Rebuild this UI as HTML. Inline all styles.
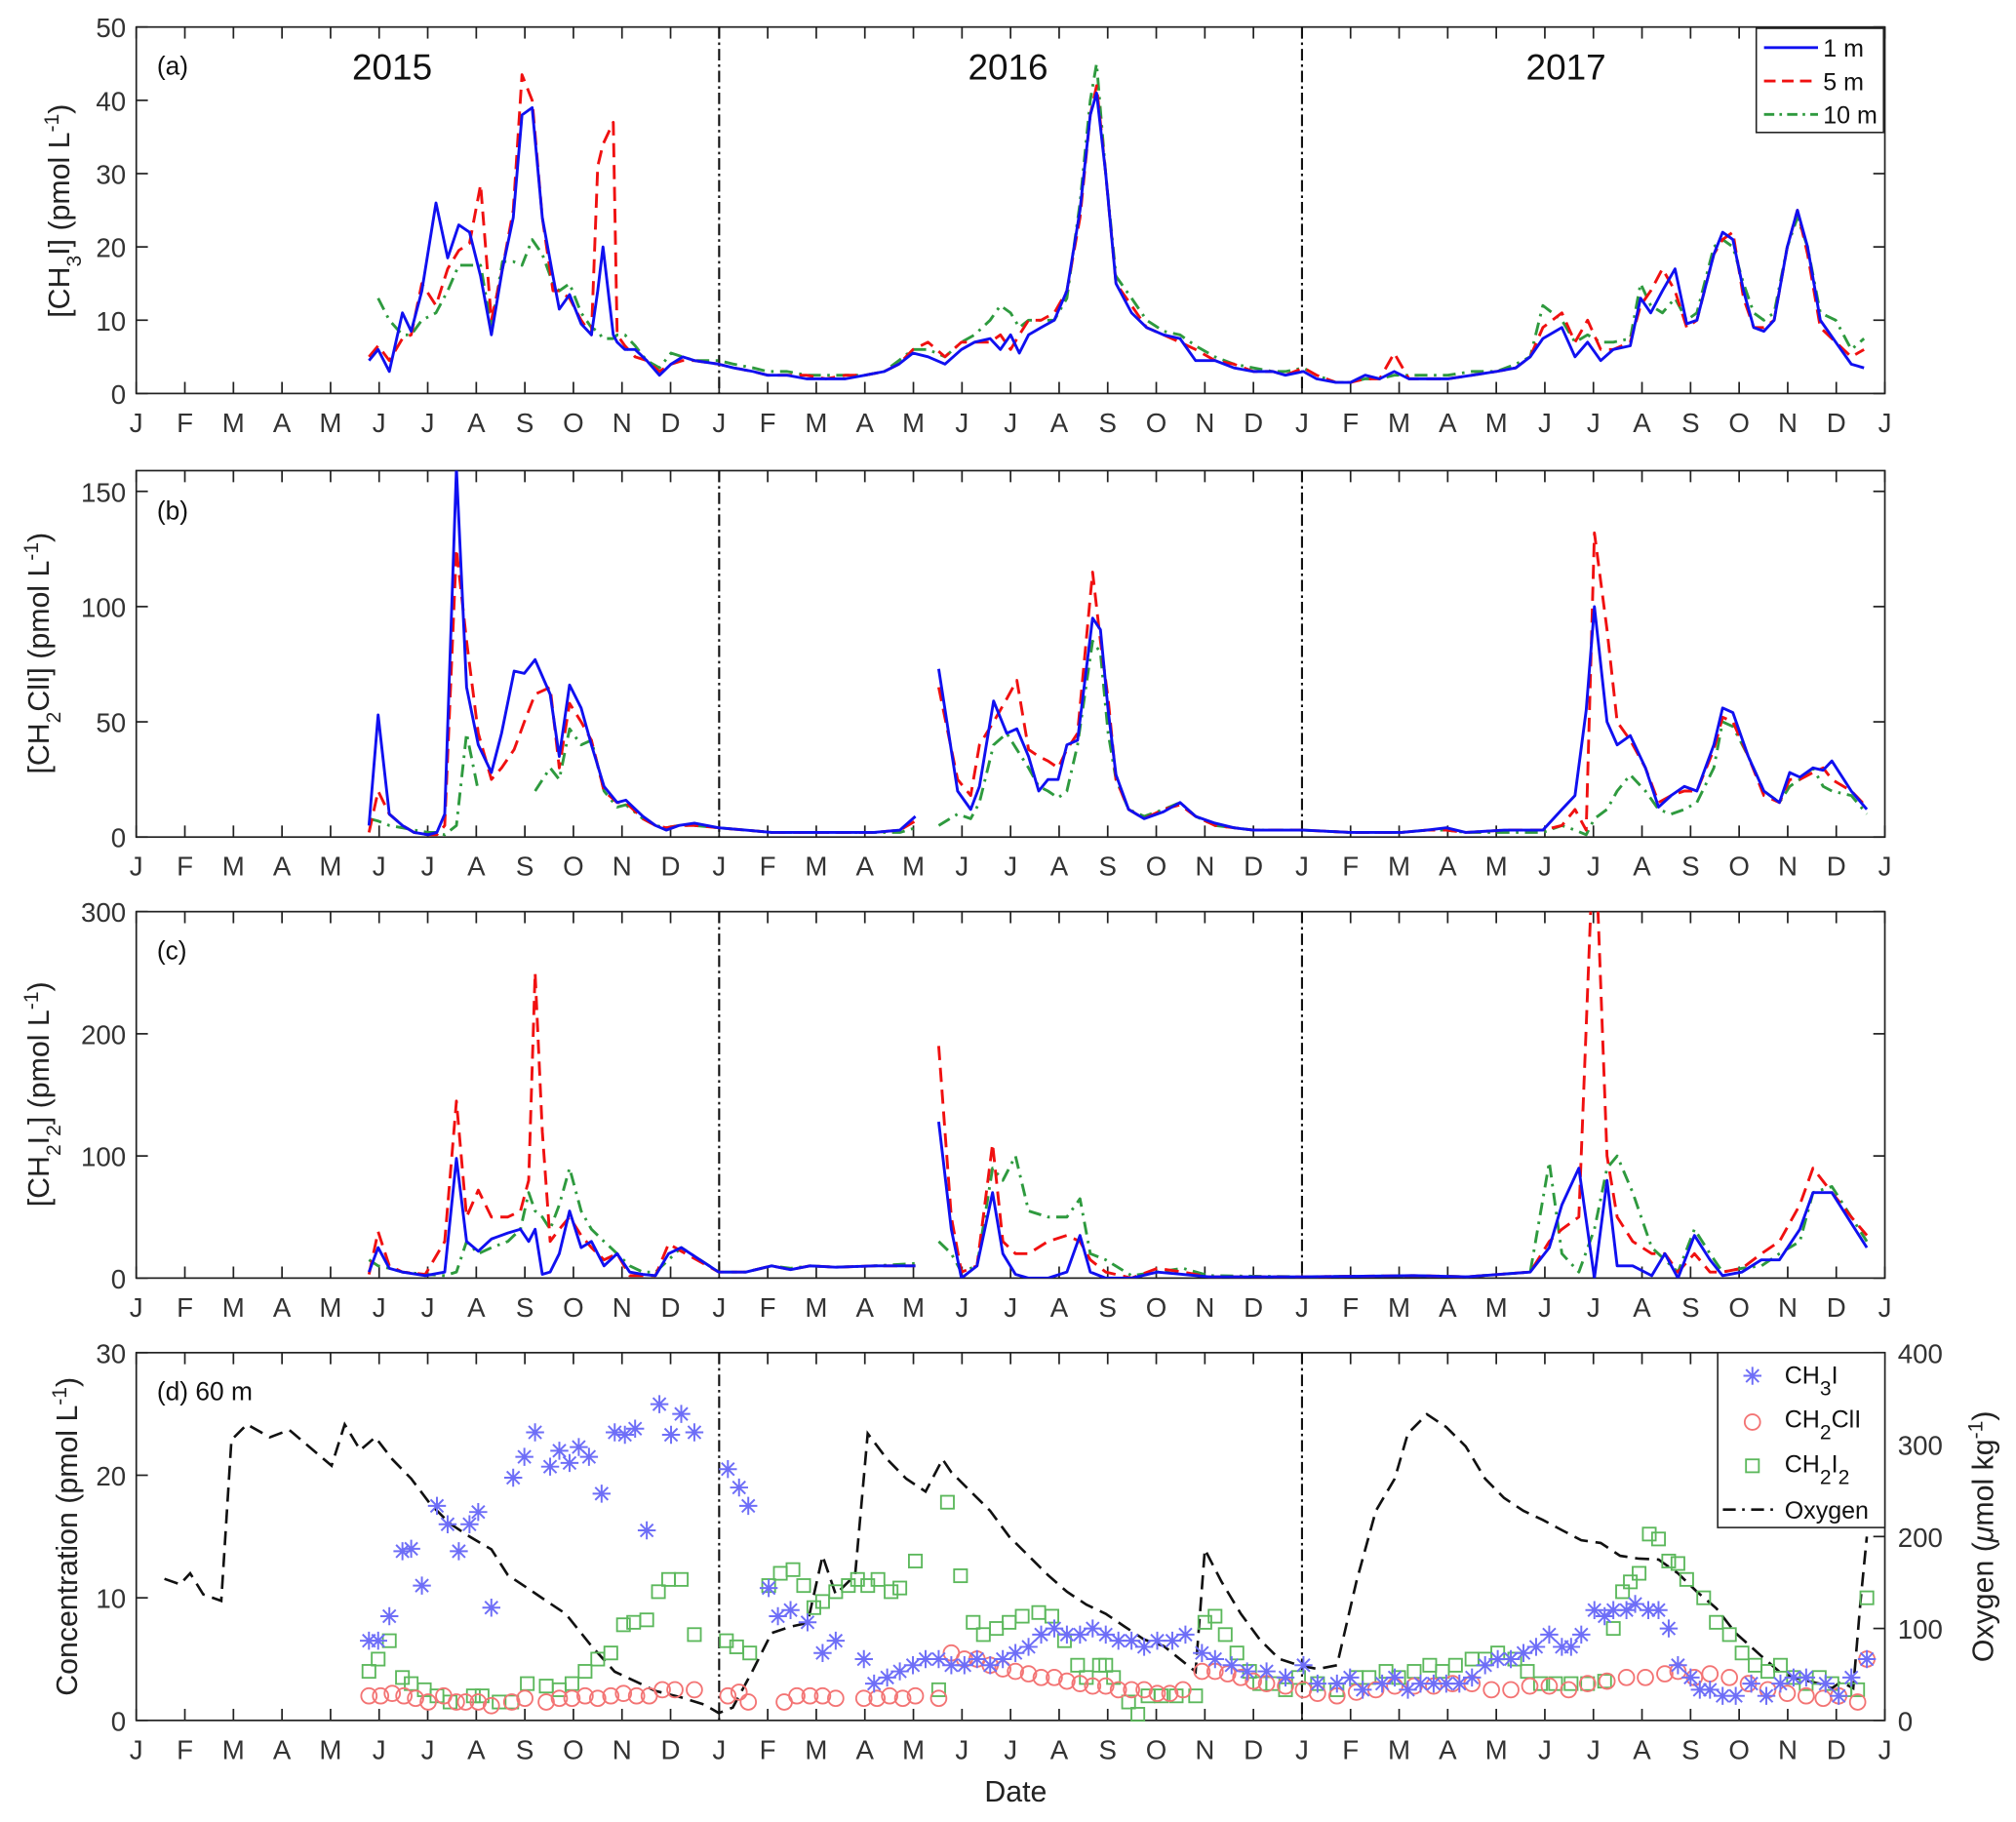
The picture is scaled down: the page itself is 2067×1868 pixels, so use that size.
<!DOCTYPE html>
<html><head><meta charset="utf-8">
<style>
html,body{margin:0;padding:0;background:#fff;}
svg{display:block;font-family:"Liberation Sans",Arial,sans-serif;}
</style></head>
<body>
<svg id="chart" width="2067" height="1868" viewBox="0 0 1568 1417" xmlns="http://www.w3.org/2000/svg">
<defs>
<clipPath id="clipA"><rect x="106" y="21" width="1360" height="285"/></clipPath>
<clipPath id="clipB"><rect x="106" y="366" width="1360" height="285"/></clipPath>
<clipPath id="clipC"><rect x="106" y="709" width="1360" height="285"/></clipPath>
<clipPath id="clipD"><rect x="106" y="1052" width="1360" height="286"/></clipPath>
</defs>
</svg>
<script>
// ---------- Panel (a) CH3I ----------
const a_t=[4.79,4.98,5.21,5.48,5.66,5.88,6.17,6.41,6.64,6.86,7.09,7.31,7.54,7.76,7.94,8.15,8.36,8.58,8.71,8.92,9.16,9.37,9.5,9.61,9.82,9.9,10.06,10.27,10.51,10.77,11.01,11.25,11.49,11.99,
12.3,12.7,13.0,13.4,13.8,14.2,14.6,15.0,15.4,15.7,15.99,16.3,16.65,16.99,17.26,17.58,17.79,18.0,18.18,18.37,18.63,18.9,19.16,19.43,19.64,19.77,19.96,20.17,20.49,20.8,21.15,21.49,21.81,22.21,22.6,23.0,23.4,23.66,24.03,
24.3,24.7,25.0,25.3,25.6,25.9,26.2,26.6,27.0,27.5,28.0,28.4,28.7,28.96,29.35,29.62,29.88,30.15,30.41,30.76,30.97,31.18,31.42,31.68,31.92,32.13,32.48,32.66,32.87,33.09,33.3,33.51,33.72,33.99,34.2,34.41,34.67,34.99,35.31,35.57];
const a_1m=[4.5,6,3,11,8.5,14,26,18.5,23,22,16,8,17,24,38,39,24,16,11.5,13.5,9.5,8,14,20,8,7,6,6,4.5,2.5,4,5,4.5,4,
3.5,3,2.5,2.5,2,2,2,2.5,3,4,5.5,5,4,6,7,7.5,6,8,5.5,8,9,10,14,25,38,41,30,15,11,9,8,7.5,4.5,4.5,3.5,3,3,2.5,3,
2,1.5,1.5,2.5,2,3,2,2,2,2.5,3,3.5,5,7.5,9,5,7,4.5,6,6.5,13,11,14,17,9.5,10,19,22,21,14,9,8.5,10,20,25,20,10,7,4,3.5];
const a_5m=[5,6.5,4.5,7.5,8,15,12,17,19.5,20.5,28.5,10,17,25,43.5,40,24,14,14,13,10,8,31,34,37,8,6.5,5,4.5,3,4,4.5,4.5,4,
3.5,3,2.5,2.5,2.5,2,2.5,2.5,3,4,6,7,5,7,7,7,8,6,8,10,10,11,14,24,38,42,30,15,12,9,8,7,6,4.5,4,3,3,2.5,3.5,
2.5,1.5,1.5,2,2,5.5,2,2,2,2.5,3,3.5,5,9,11,7,10,6,6,7,12,14,17,14,9,10,19,21,22,13,9,9,10,20,25,19,9,7,5,6];
const a_10m=[null,13,10,8,8,10,11,14,17.5,17.5,17.5,9,18,18,17.5,21,19,15,14,15,11,9,8.5,7.5,7.5,8,8,6.5,4.5,3.5,5.5,5,4.5,4.5,
4,3.5,3,3,2.5,2.5,2.5,2.5,3,4.5,6,6,5,7,8,10,12,11,9,10,10,10,13,26,40,45,30,16,13,10,8.5,8,6.5,5,4,3.5,3,3,3.5,
2.5,1.5,1.5,2,2,2.5,2.5,2.5,2.5,3,3,4,5,12,10,7,8,7,7,7.5,15,12,11,13,10,11,20,21,20,15,11,10,11,20,24,20,11,10,6,7.5];

// ---------- Panel (b) CH2ClI ----------
const b_t=[4.79,4.98,5.21,5.48,5.72,6.01,6.19,6.35,6.59,6.8,7.04,7.31,7.52,7.78,7.99,8.21,8.52,8.71,8.92,9.16,9.37,9.63,9.9,10.08,10.43,10.69,10.91,11.17,11.49,11.99,12.55,13.08,14.13,15.19,15.72,16.04,16.3,
16.52,16.91,17.18,17.36,17.65,17.92,18.13,18.37,18.58,18.77,18.98,19.16,19.38,19.69,19.85,20.01,20.17,20.43,20.75,21.15,21.49,21.81,22.21,22.6,23.0,24.03,24.99,26.05,26.57,26.97,27.37,28.16,28.96,29.35,29.62,29.85,30.02,30.28,30.49,30.76,31.07,31.34,31.6,31.87,32.13,32.48,32.66,32.87,33.19,33.51,33.83,34.04,34.25,34.52,34.73,34.91,35.31,35.63];
const b_1m=[5,53,10,5,2,1,2,10,160,65,40,28,45,72,71,77,62,35,66,56,40,22,15,16,9,5,3,5,6,4,3,2,2,2,3,9,null,
73,20,12,22,59,45,47,35,20,25,25,40,42,95,90,55,27,12,8,11,15,9,6,4,3,3,2,2,3,4,2,3,3,12,18,55,100,50,40,44,30,13,18,22,20,40,56,54,35,20,15,28,26,30,29,33,20,12];
const b_5m=[2,20,10,5,2,1,1,5,125,85,45,25,30,38,50,62,65,30,58,50,42,20,15,15,8,5,4,5,5,4,3,2,2,2,3,7,null,
65,25,18,40,50,60,68,38,35,33,30,38,45,115,85,60,25,12,8,12,14,9,5,4,3,3,2,2,3,3,2,3,3,5,12,3,132,90,50,42,30,15,18,20,20,38,52,50,35,18,15,25,25,28,30,25,20,13];
const b_10m=[8,7,5,4,3,2,2,1,5,45,20,null,null,null,null,20,30,25,47,40,42,20,13,14,8,5,4,5,5,4,3,2,2,2,2,4,null,
5,10,8,15,40,45,38,30,22,20,17,20,40,85,80,45,25,12,9,12,15,9,5,4,3,3,2,2,3,3,2,2,2,5,3,1,8,12,20,27,20,12,10,12,15,30,50,48,35,20,15,22,25,30,22,20,18,10];

// ---------- Panel (c) CH2I2 ----------
const c_t=[4.79,4.98,5.21,5.48,5.95,6.35,6.59,6.8,7.04,7.31,7.65,7.91,8.08,8.21,8.36,8.52,8.71,8.92,9.16,9.37,9.63,9.9,10.16,10.43,10.69,10.96,11.22,11.99,12.55,13.08,13.47,13.87,14.4,15.19,16.04,16.3,
16.52,16.78,16.99,17.31,17.63,17.84,18.1,18.37,18.77,19.16,19.43,19.64,19.96,20.49,21.02,21.55,22.08,24.03,26.3,27.4,28.7,29.09,29.35,29.7,30.02,30.28,30.49,30.81,31.2,31.47,31.74,32.08,32.4,32.66,33.06,33.46,33.83,34.25,34.52,34.91,35.31,35.63];
const c_1m=[5,25,8,5,2,5,98,30,22,32,37,40,30,40,3,5,20,55,25,30,10,20,5,3,2,20,25,5,5,10,7,10,9,10,10,null,
128,40,0,10,70,20,3,0,0,5,35,5,0,0,5,3,1,1,2,1,5,25,60,90,0,80,10,10,2,20,0,35,15,2,5,15,15,40,70,70,45,25];
const c_5m=[3,38,10,5,3,30,145,50,72,50,50,55,80,250,120,30,40,50,35,25,15,20,2,2,2,28,22,5,5,10,7,10,9,10,10,null,
190,50,5,10,110,30,20,20,30,35,30,15,5,0,8,5,1,1,2,1,5,30,40,50,380,100,50,30,20,20,5,20,5,5,8,20,30,60,90,70,50,35];
const c_10m=[15,10,8,5,3,2,5,30,20,25,30,40,70,55,50,40,60,90,55,40,30,20,10,5,5,15,25,5,5,10,8,10,9,10,12,null,
30,20,5,10,90,80,100,55,50,50,65,20,15,2,5,8,2,1,2,1,5,95,20,5,40,90,100,70,25,15,5,40,20,5,8,10,20,30,70,75,50,30];

// ---------- Panel (d) 60 m ----------
const d_ch3i_t=[4.79,4.98,5.21,5.48,5.66,5.88,6.19,6.41,6.64,6.86,7.04,7.31,7.76,7.99,8.21,8.52,8.71,8.92,9.11,9.32,9.58,9.85,10.06,10.27,10.51,10.77,11.01,11.22,11.49,
12.18,12.41,12.6,13.02,13.21,13.47,13.82,14.13,14.4,14.98,15.19,15.46,15.72,15.99,16.25,16.52,16.78,17.05,17.31,17.58,17.84,18.1,18.37,18.63,18.9,19.16,19.43,19.69,19.96,20.22,20.49,20.75,21.02,21.33,21.6,21.94,22.21,22.55,22.87,23.27,23.66,24.03,
24.32,24.72,24.99,25.25,25.65,25.91,26.18,26.44,26.71,26.97,27.24,27.5,27.77,28.03,28.3,28.56,28.82,29.09,29.35,29.54,29.75,30.02,30.23,30.41,30.68,30.86,31.13,31.34,31.55,31.74,32.0,32.19,32.4,32.66,32.93,33.25,33.56,33.85,34.12,34.38,34.78,35.05,35.31,35.63];
const d_ch3i=[6.5,6.5,8.5,13.8,14,11,17.5,16,13.8,16,17,9.2,19.8,21.5,23.5,20.7,22,21,22.3,21.5,18.5,23.5,23.3,23.8,15.5,25.8,23.3,25,23.5,
20.5,19,17.5,10.8,8.5,9,8,5.5,6.5,5,3,3.5,4,4.5,5,5,4.5,4.5,5,4.5,5,5.5,6,7,7.5,7,7,7.5,7,6.5,6.5,6,6.5,6.5,7,5.5,5,4.5,4,4,3.5,4.5,
3,3,3.5,2.5,3,3.5,2.5,3,3,3,3,3.5,4.5,5,5,5.5,6,7,6,6,7,9,8.5,9,9,9.5,9,9,7.5,4.5,3.5,2.5,2.5,2,2,3,2,3,3.5,3.5,3,2,3.5,5];
const d_ch2cli_t=[4.79,5.03,5.27,5.51,5.75,6.01,6.33,6.59,6.78,7.04,7.31,7.73,8.0,8.44,8.71,8.97,9.24,9.5,9.77,10.03,10.3,10.56,10.83,11.09,11.49,
12.18,12.41,12.6,13.34,13.6,13.87,14.13,14.4,14.98,15.25,15.51,15.78,16.04,16.52,16.78,17.05,17.31,17.58,17.84,18.1,18.37,18.63,18.9,19.16,19.43,19.69,19.96,20.22,20.49,20.75,21.02,21.28,21.55,21.94,22.21,22.47,22.74,23.0,23.27,23.66,24.03,
24.32,24.72,25.12,25.52,25.91,26.31,26.71,27.1,27.5,27.9,28.3,28.69,29.09,29.49,29.88,30.28,30.68,31.07,31.47,31.74,32.08,32.4,32.8,33.19,33.59,33.99,34.38,34.73,35.05,35.44,35.63];
const d_ch2cli=[2,2,2.2,2,1.8,1.5,2,1.5,1.5,1.5,1.2,1.5,1.8,1.5,1.8,1.8,2,1.8,2,2.2,2,2,2.5,2.5,2.5,
2,2.3,1.5,1.5,2,2,2,1.8,1.8,1.8,2,1.8,2,1.8,5.5,5,5,4.5,4.2,4,3.8,3.5,3.5,3.2,3,2.8,2.8,2.5,2.5,2.5,2.2,2.2,2.5,4,4,3.8,3.5,3.2,3,2.8,2.5,
2.2,2,2.3,2.5,2.8,2.8,2.8,3,3,2.5,2.5,2.8,2.8,2.5,3,3.2,3.5,3.5,3.8,4,3.5,3.8,3.5,3,2.5,2.2,2,1.8,2,1.5,5];
const d_ch2i2_t=[4.79,4.98,5.21,5.48,5.66,5.93,6.19,6.46,6.94,7.12,7.47,7.73,8.05,8.44,8.71,8.97,9.24,9.5,9.77,10.03,10.24,10.51,10.75,10.96,11.22,11.49,
12.15,12.36,12.63,13.02,13.26,13.52,13.74,13.95,14.13,14.4,14.66,14.85,15.06,15.27,15.54,15.72,16.04,16.52,16.7,16.97,17.23,17.44,17.71,17.97,18.24,18.58,18.85,19.11,19.38,19.56,19.83,19.96,20.12,20.43,20.62,20.83,21.1,21.41,21.81,22.0,22.21,22.42,22.66,22.92,23.13,23.4,23.66,23.93,
24.32,24.72,25.12,25.38,25.73,25.99,26.31,26.63,26.89,27.16,27.5,27.77,28.03,28.38,28.64,28.91,29.22,29.54,29.88,30.23,30.41,30.6,30.76,30.94,31.15,31.34,31.55,31.74,31.92,32.27,32.53,32.8,33.06,33.33,33.59,33.85,34.12,34.38,34.65,34.91,35.18,35.44,35.63];
const d_ch2i2=[4,5,6.5,3.5,3,2.5,2,1.5,2,2,1.5,1.5,3,2.8,2.5,3,4,5,5.5,7.8,8,8.2,10.5,11.5,11.5,7,
6.5,6,5.5,11,12,12.3,11,9.2,9.7,10.5,11,11.5,11,11.5,10.5,10.8,13,2.5,17.8,11.8,8,7,7.5,8,8.5,8.8,8.5,6.5,4.5,3.5,4.5,4.5,3.5,1.5,0.5,2,2,2,2,8,8.5,7,5.5,4,3,3,2.5,3.5,
3,2.5,3.5,3.5,4,3.5,4,4.5,4,4.5,5,5,5.5,5,4,3,3,3,3,3.2,7.5,10.5,11.3,12,15.2,14.8,13,12.8,11.5,10,8,7,5.5,4.5,4,4.5,3.5,3,3.5,3,2.5,2.5,10];
const d_oxy_t=[0.58,0.9,1.11,1.38,1.75,1.96,2.28,2.75,3.15,3.55,4.02,4.29,4.61,4.92,5.27,5.66,6.06,6.46,6.86,7.31,7.65,8.05,8.44,8.84,9.37,9.85,10.3,10.69,11.22,11.7,11.99,
12.28,12.68,13.08,13.47,13.82,14.13,14.4,14.8,15.06,15.46,15.85,16.25,16.6,16.78,17.18,17.58,17.97,18.37,18.77,19.16,19.56,19.96,20.35,20.75,21.15,21.55,21.81,22.0,22.34,22.74,23.13,23.53,23.93,24.32,24.72,
25.12,25.52,25.91,26.18,26.57,26.97,27.37,27.77,28.16,28.56,28.96,29.35,29.75,30.15,30.55,30.94,31.34,31.74,32.13,32.53,32.93,33.46,33.85,34.25,34.65,34.91,35.1,35.35,35.5,35.63];
const d_oxy=[154,148,160,137,130,305,322,308,316,298,277,322,294,308,284,263,235,214,200,186,158,144,130,116,81,53,42,32,25,17,8,
14,53,95,102,106,179,137,158,312,284,263,249,284,270,249,228,200,179,158,140,126,116,102,88,81,64,53,186,151,116,88,67,60,56,60,
151,228,263,312,333,319,298,263,242,228,218,207,196,193,179,176,175,160,140,122,95,70,52,45,40,35,42,35,130,200];

const monthLetters=["J","F","M","A","M","J","J","A","S","O","N","D"];
const yearLabels=["2015","2016","2017"];

const svg=document.getElementById('chart');
const NS="http://www.w3.org/2000/svg";
const L=106,R=1466;
const xs=m=>L+m*(R-L)/36;
function el(tag,attrs,parent){const e=document.createElementNS(NS,tag);for(const k in attrs)e.setAttribute(k,attrs[k]);(parent||svg).appendChild(e);return e;}

const panels=[
 {id:'a',top:21,bot:306,ymax:50,ticks:[0,10,20,30,40,50],clip:'clipA'},
 {id:'b',top:366,bot:651,ymax:159,ticks:[0,50,100,150],clip:'clipB'},
 {id:'c',top:709,bot:994,ymax:300,ticks:[0,100,200,300],clip:'clipC'},
 {id:'d',top:1052,bot:1338,ymax:30,ticks:[0,10,20,30],clip:'clipD'}
];
function ysFor(p){return v=>p.bot-v*(p.bot-p.top)/p.ymax;}

function drawAxes(p,rightTicks){
  const g=el('g',{});
  
  
  el('rect',{x:L,y:p.top,width:R-L,height:p.bot-p.top,fill:'none',stroke:'#222','stroke-width':1.3},g);
  for(let m=0;m<=36;m++){
    const x=xs(m);
    el('line',{x1:x,x2:x,y1:p.bot,y2:p.bot-9,stroke:'#222','stroke-width':1.3},g);
    el('line',{x1:x,x2:x,y1:p.top,y2:p.top+9,stroke:'#222','stroke-width':1.3},g);
    const t=el('text',{x:x,y:p.bot+30,'font-size':21,'text-anchor':'middle',fill:'#333'},g);
    t.textContent=monthLetters[m%12];
    
    
  }
  const ys=ysFor(p);
  p.ticks.forEach(v=>{
    const y=ys(v);
    el('line',{x1:L,x2:L+9,y1:y,y2:y,stroke:'#222','stroke-width':1.3},g);
    if(!rightTicks) el('line',{x1:R,x2:R-9,y1:y,y2:y,stroke:'#222','stroke-width':1.3},g);
    const t=el('text',{x:L-8,y:y+8,'font-size':21,'text-anchor':'end',fill:'#333'},g);
    t.textContent=v;
    
    
  });
  [12,24].forEach(m=>{
    const l=el('line',{x1:xs(m),x2:xs(m),y1:p.top,y2:p.bot,stroke:'#111','stroke-width':1.6,'stroke-dasharray':'9,3,2,3'},g);
    
    
  });
}

function linePath(p,t,v,color,dash,name){
  const ys=ysFor(p);let d='',pen=false;
  for(let i=0;i<Math.min(t.length,v.length);i++){
    if(v[i]===null||v[i]===undefined){pen=false;continue;}
    d+=(pen?'L':'M')+xs(t[i]).toFixed(1)+','+ys(v[i]).toFixed(1);pen=true;
  }
  const path=el('path',{d:d,fill:'none',stroke:color,'stroke-width':2.2,'stroke-dasharray':dash||'none','stroke-linejoin':'round','clip-path':'url(#'+p.clip+')'});
  
  
}

const BLUE='#1010f0',RED='#f01010',GREEN='#2e9a3e';
const DASH='11,6',DASHDOT='10,5,2,5';

// panels a-c
drawAxes(panels[0]);drawAxes(panels[1]);drawAxes(panels[2]);drawAxes(panels[3],true);
linePath(panels[0],a_t,a_10m,GREEN,DASHDOT,'ch3i-10m-line');
linePath(panels[0],a_t,a_5m,RED,DASH,'ch3i-5m-line');
linePath(panels[0],a_t,a_1m,BLUE,null,'ch3i-1m-line');
linePath(panels[1],b_t,b_10m,GREEN,DASHDOT,'ch2cli-10m-line');
linePath(panels[1],b_t,b_5m,RED,DASH,'ch2cli-5m-line');
linePath(panels[1],b_t,b_1m,BLUE,null,'ch2cli-1m-line');
linePath(panels[2],c_t,c_10m,GREEN,DASHDOT,'ch2i2-10m-line');
linePath(panels[2],c_t,c_5m,RED,DASH,'ch2i2-5m-line');
linePath(panels[2],c_t,c_1m,BLUE,null,'ch2i2-1m-line');

// panel d
const pd=panels[3];
const oxyP={bot:pd.bot,top:pd.top,ymax:400};
const yo=ysFor(oxyP);
[0,100,200,300,400].forEach(v=>{
  el('line',{x1:R,x2:R-9,y1:yo(v),y2:yo(v),stroke:'#222','stroke-width':1.3});
  const t=el('text',{x:R+10,y:yo(v)+8,'font-size':21,'text-anchor':'start',fill:'#333'});
  t.textContent=v;
  
  
});
(function(){
  let d='';
  for(let i=0;i<d_oxy_t.length;i++) d+=(i?'L':'M')+xs(d_oxy_t[i]).toFixed(1)+','+yo(d_oxy[i]).toFixed(1);
  const p=el('path',{d:d,fill:'none',stroke:'#111','stroke-width':2,'stroke-dasharray':'11,6','clip-path':'url(#clipD)'});
  
  
})();
const ysd=ysFor(pd);
const gSq=el('g',{fill:'none',stroke:'#5cb85c','stroke-width':1.4});

d_ch2i2_t.forEach((t,i)=>{const m=el('rect',{x:xs(t)-5,y:ysd(d_ch2i2[i])-5,width:10,height:10},gSq);
  });
const gCi=el('g',{fill:'none',stroke:'#f37474','stroke-width':1.4});

d_ch2cli_t.forEach((t,i)=>{const m=el('circle',{cx:xs(t),cy:ysd(d_ch2cli[i]),r:6},gCi);
  });
const gSt=el('g',{stroke:'#6e6ef7','stroke-width':1.5});

function star(cx,cy,s,parent){let d='';for(let k=0;k<4;k++){const a=k*Math.PI/4;const dx=Math.cos(a)*s,dy=Math.sin(a)*s;d+='M'+(cx-dx)+','+(cy-dy)+'L'+(cx+dx)+','+(cy+dy);}return el('path',{d:d},parent);}
d_ch3i_t.forEach((t,i)=>{const m=star(xs(t),ysd(d_ch3i[i]),7,gSt);
  });

// titles / labels
function txt(x,y,s,size,name,anchor,extra){const t=el('text',Object.assign({x:x,y:y,'font-size':size,'text-anchor':anchor||'start',fill:'#111'},extra||{}));t.innerHTML=s;return t;}
txt(122,58,'(a)',20,'panel-a-label');
txt(122,404,'(b)',20,'panel-b-label');
txt(122,746,'(c)',20,'panel-c-label');
txt(122,1089,'(d) 60 m',20,'panel-d-label');
txt(305,62,yearLabels[0],28,'year-label-2015','middle');
txt(784,62,yearLabels[1],28,'year-label-2016','middle');
txt(1218,62,yearLabels[2],28,'year-label-2017','middle');
txt(790,1401,'Date',23,'x-axis-title','middle',{fill:'#222'});
const SUB='<tspan baseline-shift="sub" font-size="16">', SUP='<tspan baseline-shift="super" font-size="16">';
txt(0,0,'[CH'+SUB+'3</tspan>I] (pmol L'+SUP+'-1</tspan>)',23,'y-axis-title-a','middle',{transform:'translate(54,164) rotate(-90)',fill:'#222'});
txt(0,0,'[CH'+SUB+'2</tspan>ClI] (pmol L'+SUP+'-1</tspan>)',23,'y-axis-title-b','middle',{transform:'translate(38,508) rotate(-90)',fill:'#222'});
txt(0,0,'[CH'+SUB+'2</tspan>I'+SUB+'2</tspan>] (pmol L'+SUP+'-1</tspan>)',23,'y-axis-title-c','middle',{transform:'translate(38,851) rotate(-90)',fill:'#222'});
txt(0,0,'Concentration (pmol L'+SUP+'-1</tspan>)',23,'y-axis-title-d','middle',{transform:'translate(60,1195) rotate(-90)',fill:'#222'});
txt(0,0,'Oxygen (<tspan font-style="italic">μ</tspan>mol kg'+SUP+'-1</tspan>)',23,'y-axis-title-oxygen','middle',{transform:'translate(1550,1195) rotate(-90)',fill:'#222'});

// legend a
(function(){
  const g=el('g',{});
  el('rect',{x:1366,y:22,width:99,height:81,fill:'#fff',stroke:'#222','stroke-width':1.2},g);
  const items=[['1 m',BLUE,'none'],['5 m',RED,'9,5'],['10 m',GREEN,'8,4,2,4']];
  items.forEach((it,i)=>{const y=37+i*26;
    el('line',{x1:1372,x2:1414,y1:y,y2:y,stroke:it[1],'stroke-width':2.2,'stroke-dasharray':it[2]},g);
    const t=el('text',{x:1418,y:y+7,'font-size':19,fill:'#111'},g);t.textContent=it[0];
    });
})();
// legend d
(function(){
  const g=el('g',{});
  el('rect',{x:1336,y:1052,width:130,height:136,fill:'#fff',stroke:'#222','stroke-width':1.2},g);
  star(1363,1070,7,el('g',{stroke:'#6e6ef7','stroke-width':1.5},g));
  el('circle',{cx:1363,cy:1106,r:6,fill:'none',stroke:'#f37474','stroke-width':1.4},g);
  el('rect',{x:1358,y:1135,width:10,height:10,fill:'none',stroke:'#5cb85c','stroke-width':1.4},g);
  el('line',{x1:1340,x2:1384,y1:1174,y2:1174,stroke:'#111','stroke-width':2,'stroke-dasharray':'10,5,2,5'},g);
  const labels=['CH'+SUB+'3</tspan>I','CH'+SUB+'2</tspan>ClI','CH'+SUB+'2</tspan>I'+SUB+'2</tspan>','Oxygen'];
  labels.forEach((s,i)=>{const t=el('text',{x:1388,y:[1076,1110,1145,1181][i],'font-size':19,fill:'#111'},g);t.innerHTML=s;
    });
})();
</script>
</body></html>
